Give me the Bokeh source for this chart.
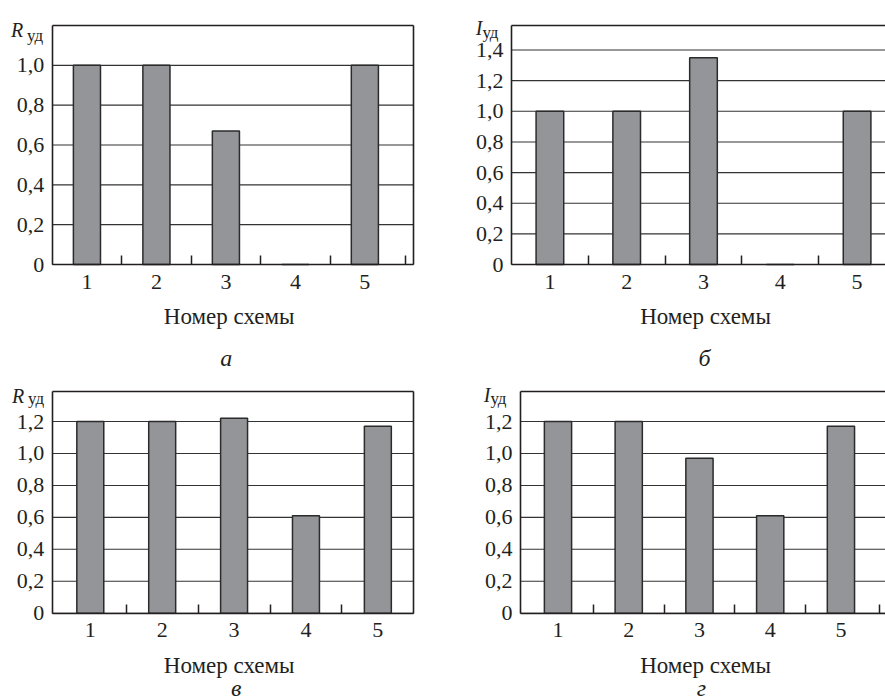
from bokeh.plotting import figure
from bokeh.models import FixedTicker, CustomJSTickFormatter, Label, Range1d, LinearAxis
from bokeh.layouts import column, row
from bokeh.embed import file_html
from bokeh.resources import INLINE

# ---------------- data ----------------
SCHEMES = [1, 2, 3, 4, 5]
R_UD_A = [1.00, 1.00, 0.67, 0.00, 1.00]
I_UD_B = [1.00, 1.00, 1.35, 0.00, 1.00]
R_UD_V = [1.20, 1.20, 1.22, 0.61, 1.17]
I_UD_G = [1.20, 1.20, 0.97, 0.61, 1.17]

Y_TICKS_A = [0, 0.2, 0.4, 0.6, 0.8, 1.0]
Y_TICKS_B = [0, 0.2, 0.4, 0.6, 0.8, 1.0, 1.2, 1.4]
Y_TICKS_VG = [0, 0.2, 0.4, 0.6, 0.8, 1.0, 1.2]

X_TITLE = "Номер схемы"
Y_SUB = "уд"
PANEL_LETTERS = ["а", "б", "в", "г"]
Y_NAMES = ["R", "I", "R", "I"]

FONT = "Liberation Serif"
INK = "#231f20"
BAR_FILL = "#939598"
GRID = "#333333"


def make_panel(values, y_ticks, y_name, letter, fig_w, fig_h, box_px, box_data,
               bar_width, minor, closed, name_off, sub_off, xt_dx, letter_dx, letter_dy):
    L, T, R, B = box_px
    x0, x1, y0, y1 = box_data
    kx = (x1 - x0) / (R - L)
    ky = (y1 - y0) / (B - T)
    xr = Range1d(x0 - L * kx, x0 + (fig_w - L) * kx)
    yr = Range1d(y0 - (fig_h - B) * ky, y1 + T * ky)

    p = figure(output_backend="svg", toolbar_location=None, tools="", title=None,
               frame_width=fig_w, frame_height=fig_h,
               min_border_left=0, min_border_right=0, min_border_top=0, min_border_bottom=0,
               x_range=xr, y_range=yr)
    p.background_fill_color = "white"
    p.border_fill_color = "white"
    p.outline_line_color = None
    p.xgrid.visible = False
    p.ygrid.visible = False

    # horizontal grid lines inside the box, at the y tick values
    n = len(y_ticks)
    p.segment(x0=[x0] * n, x1=[x1] * n, y0=y_ticks, y1=y_ticks,
              line_color=GRID, line_width=1.1)

    p.vbar(x=SCHEMES, top=values, width=bar_width, bottom=0,
           fill_color=BAR_FILL, line_color="#2b2b2b", line_width=1.5)

    # x axis at y = 0
    xa = p.xaxis[0]
    xa.fixed_location = 0
    xa.bounds = (x0, x1)
    xa.ticker = FixedTicker(ticks=SCHEMES, minor_ticks=minor)
    xa.major_tick_in = 0
    xa.major_tick_out = 0
    xa.minor_tick_in = 9
    xa.minor_tick_out = 0
    xa.minor_tick_line_color = INK
    xa.minor_tick_line_width = 1.5
    xa.axis_line_color = INK
    xa.axis_line_width = 1.6
    xa.major_label_text_font = FONT
    xa.major_label_text_font_size = "22px"
    xa.major_label_text_color = INK
    xa.major_label_standoff = 10

    # y axis at left box edge
    ya = p.yaxis[0]
    ya.fixed_location = x0
    ya.bounds = (y0, y1)
    ya.ticker = FixedTicker(ticks=y_ticks, minor_ticks=[])
    ya.formatter = CustomJSTickFormatter(
        code="return tick == 0 ? '0' : tick.toFixed(1).replace('.', ',');")
    ya.major_tick_in = 0
    ya.major_tick_out = 0
    ya.minor_tick_in = 0
    ya.minor_tick_out = 0
    ya.axis_line_color = INK
    ya.axis_line_width = 1.6
    ya.major_label_text_font = FONT
    ya.major_label_text_font_size = "22px"
    ya.major_label_text_color = INK
    ya.major_label_standoff = 8

    # top border of the box
    top = LinearAxis(fixed_location=y1, bounds=(x0, x1),
                     ticker=FixedTicker(ticks=[], minor_ticks=[]),
                     axis_line_color=INK, axis_line_width=1.6,
                     major_tick_in=0, major_tick_out=0, minor_tick_in=0, minor_tick_out=0)
    p.add_layout(top, "above")
    if closed:
        right = LinearAxis(fixed_location=x1, bounds=(y0, y1),
                           ticker=FixedTicker(ticks=[], minor_ticks=[]),
                           axis_line_color=INK, axis_line_width=1.6,
                           major_tick_in=0, major_tick_out=0, minor_tick_in=0, minor_tick_out=0)
        p.add_layout(right, "right")

    # y-axis name with subscript
    p.add_layout(Label(x=x0, y=y1, text=y_name, text_align="right",
                       text_baseline="alphabetic", x_offset=name_off[0], y_offset=name_off[1],
                       text_font=FONT, text_font_style="italic", text_font_size="20px",
                       text_color=INK))
    p.add_layout(Label(x=x0, y=y1, text=Y_SUB, text_align="right",
                       text_baseline="alphabetic", x_offset=sub_off[0], y_offset=sub_off[1],
                       text_font=FONT, text_font_size="17px", text_color=INK))

    # x-axis title
    p.add_layout(Label(x=x0, y=0, text=X_TITLE, text_align="center",
                       text_baseline="alphabetic", x_offset=xt_dx, y_offset=-52,
                       text_font=FONT, text_font_size="23px", text_color=INK))
    # panel letter
    p.add_layout(Label(x=x0, y=0, text=letter, text_align="center",
                       text_baseline="alphabetic", x_offset=letter_dx, y_offset=letter_dy,
                       text_font=FONT, text_font_style="italic", text_font_size="24px",
                       text_color=INK))
    return p


pa = make_panel(R_UD_A, Y_TICKS_A, Y_NAMES[0], PANEL_LETTERS[0], 458, 370,
                (51.7, 25, 413, 264), (0.5, 5.7, 0, 1.2),
                0.39, [1.5, 2.5, 3.5, 4.5, 5.59], True,
                (-29, -4), (-9, -10), 177, 174, -93)
pb = make_panel(I_UD_B, Y_TICKS_B, Y_NAMES[1], PANEL_LETTERS[1], 427, 370,
                (53, 25, 427, 264), (0.5, 5.37, 0, 1.56),
                0.36, [1.5, 2.5, 3.5, 4.5], False,
                (-29, -2), (-13, -7), 194, 193, -93)
pc = make_panel(R_UD_V, Y_TICKS_VG, Y_NAMES[2], PANEL_LETTERS[2], 458, 330,
                (51.7, 20.7, 413.3, 242.7), (0.47, 5.5, 0, 1.39),
                0.375, [1.5, 2.5, 3.5, 4.5], True,
                (-28, -5), (-8, -7), 177, 184, -75)
pd_ = make_panel(I_UD_G, Y_TICKS_VG, Y_NAMES[3], PANEL_LETTERS[3], 427, 330,
                 (62, 20.7, 427, 242.7), (0.47, 5.63, 0, 1.39),
                 0.385, [1.5, 2.5, 3.5, 4.5, 5.55], False,
                 (-30, -4), (-14, -7), 185, 181, -75)

layout = column(row(pa, pb), row(pc, pd_))

open("out.html", "w").write(file_html(layout, INLINE))
